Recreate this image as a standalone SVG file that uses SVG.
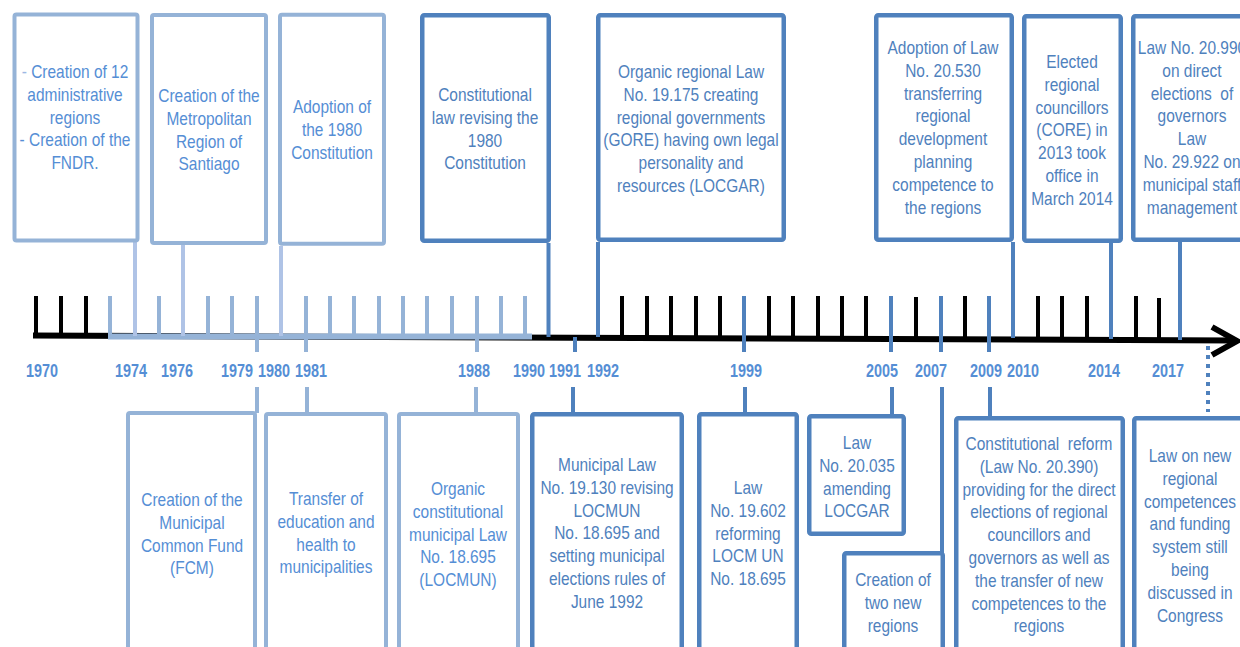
<svg xmlns="http://www.w3.org/2000/svg" width="1240" height="647" viewBox="0 0 1240 647">
<defs>
<style>
.bl{fill:#fff;stroke:#95B3D7;stroke-width:4}
.bd{fill:#fff;stroke:#4F81BD;stroke-width:4.5}
.t{font-family:"Liberation Sans",Arial,sans-serif;font-size:18px;text-anchor:middle}
.tl{fill:#558ED5}
.td{fill:#4F81BD}
.yr{font-family:"Liberation Sans",Arial,sans-serif;font-size:18px;font-weight:bold;fill:#558ED5;text-anchor:middle}
.tk{stroke:#000;stroke-width:4}
.tlb{stroke:#95B3D7;stroke-width:4}
.cl{stroke:#AFC3E6;stroke-width:4}
.cd{stroke:#4F81BD;stroke-width:4}
</style>
</defs>
<rect width="1240" height="647" fill="#fff"/>

<g id="axis">
<line x1="33" y1="335.5" x2="1234" y2="340.5" stroke="#000" stroke-width="6"/>
<line x1="108" y1="336.5" x2="532" y2="336.5" stroke="#95B3D7" stroke-width="6"/>
<polyline points="1212,327 1237,341 1212,355" fill="none" stroke="#000" stroke-width="6"/>
<g class="tk">
<line x1="36" y1="296" x2="36" y2="336"/><line x1="61" y1="296" x2="61" y2="336"/><line x1="86" y1="296" x2="86" y2="336"/>
<line x1="622" y1="296" x2="622" y2="338"/><line x1="647" y1="296" x2="647" y2="338"/><line x1="671" y1="296" x2="671" y2="338"/><line x1="696" y1="296" x2="696" y2="338"/><line x1="720" y1="296" x2="720" y2="338"/>
<line x1="769" y1="296" x2="769" y2="338"/><line x1="793" y1="296" x2="793" y2="338"/><line x1="818" y1="296" x2="818" y2="338"/><line x1="842" y1="296" x2="842" y2="338"/><line x1="866" y1="296" x2="866" y2="338"/>
<line x1="916" y1="297" x2="916" y2="339"/><line x1="965" y1="296" x2="965" y2="339"/><line x1="1038" y1="296" x2="1038" y2="339"/><line x1="1062" y1="296" x2="1062" y2="339"/><line x1="1087" y1="296" x2="1087" y2="339"/>
<line x1="1136" y1="296" x2="1136" y2="340"/><line x1="1159" y1="298" x2="1159" y2="340"/>
</g>
<g class="tlb">
<line x1="110" y1="296" x2="110" y2="336"/><line x1="159" y1="296" x2="159" y2="336"/><line x1="208" y1="296" x2="208" y2="336"/><line x1="232" y1="296" x2="232" y2="336"/>
<line x1="330" y1="296" x2="330" y2="336"/><line x1="354" y1="296" x2="354" y2="336"/><line x1="379" y1="296" x2="379" y2="336"/><line x1="403" y1="296" x2="403" y2="336"/><line x1="427" y1="296" x2="427" y2="336"/><line x1="452" y1="296" x2="452" y2="336"/>
<line x1="501" y1="296" x2="501" y2="336"/><line x1="525" y1="296" x2="525" y2="336"/>
</g>
</g>

<g id="years">
<text class="yr" transform="translate(42,377) scale(0.8,1)">1970</text>
<text class="yr" transform="translate(131,377) scale(0.8,1)">1974</text>
<text class="yr" transform="translate(177,377) scale(0.8,1)">1976</text>
<text class="yr" transform="translate(237,377) scale(0.8,1)">1979</text>
<text class="yr" transform="translate(274,377) scale(0.8,1)">1980</text>
<text class="yr" transform="translate(311,377) scale(0.8,1)">1981</text>
<text class="yr" transform="translate(474,377) scale(0.8,1)">1988</text>
<text class="yr" transform="translate(529,377) scale(0.8,1)">1990</text>
<text class="yr" transform="translate(565,377) scale(0.8,1)">1991</text>
<text class="yr" transform="translate(603,377) scale(0.8,1)">1992</text>
<text class="yr" transform="translate(746,377) scale(0.8,1)">1999</text>
<text class="yr" transform="translate(882,377) scale(0.8,1)">2005</text>
<text class="yr" transform="translate(931,377) scale(0.8,1)">2007</text>
<text class="yr" transform="translate(986,377) scale(0.8,1)">2009</text>
<text class="yr" transform="translate(1023,377) scale(0.8,1)">2010</text>
<text class="yr" transform="translate(1104,377) scale(0.8,1)">2014</text>
<text class="yr" transform="translate(1168,377) scale(0.8,1)">2017</text>
</g>

<g id="connectors" fill="none">
<line class="cl" x1="135" y1="242" x2="135" y2="336"/>
<line class="cl" x1="183" y1="245" x2="183" y2="336"/>
<line class="cl" x1="281" y1="246" x2="281" y2="336"/>
<line class="tlb" x1="257" y1="296" x2="257" y2="352"/><line class="tlb" x1="257" y1="387" x2="257" y2="413"/>
<line class="tlb" x1="306" y1="296" x2="306" y2="352"/><line class="tlb" x1="307" y1="387" x2="307" y2="414"/>
<line class="tlb" x1="477" y1="296" x2="477" y2="352"/><line class="tlb" x1="476" y1="387" x2="476" y2="414"/>
<line class="cd" x1="548.5" y1="243" x2="548.5" y2="337"/>
<line class="cd" x1="575" y1="337" x2="575" y2="352"/><line class="cd" x1="573" y1="387" x2="573" y2="414"/>
<line class="cd" x1="598" y1="242" x2="598" y2="337"/>
<line class="cd" x1="744" y1="296" x2="744" y2="352"/><line class="cd" x1="745" y1="387" x2="745" y2="414"/>
<line class="cd" x1="891" y1="296" x2="891" y2="352"/><line class="cd" x1="892" y1="387" x2="892" y2="416"/>
<line class="cd" x1="941" y1="296" x2="941" y2="352"/><line class="cd" x1="942" y1="387" x2="942" y2="553"/>
<line class="cd" x1="989" y1="296" x2="989" y2="352"/><line class="cd" x1="990" y1="387" x2="990" y2="418"/>
<line class="cd" x1="1013" y1="242" x2="1013" y2="338"/>
<line class="cd" x1="1111" y1="243" x2="1111" y2="339"/>
<line class="cd" x1="1180" y1="242" x2="1180" y2="340"/>
<line class="cd" x1="1208" y1="346" x2="1208" y2="412" stroke-dasharray="4 5"/>
</g>

<g id="n1974"><rect class="bl" x="14.5" y="14.5" width="123" height="226" rx="2"/>
<text class="t tl" transform="translate(75,78) scale(0.86,1)"><tspan x="0"><tspan fill="#9DB8E4">-</tspan> Creation of 12</tspan><tspan x="0" dy="22.8">administrative</tspan><tspan x="0" dy="22.8">regions</tspan><tspan x="0" dy="22.8">- Creation of the</tspan><tspan x="0" dy="22.8">FNDR.</tspan></text></g>
<g id="n1976"><rect class="bl" x="152" y="15" width="114" height="228" rx="2"/>
<text class="t tl" transform="translate(209,102) scale(0.86,1)"><tspan x="0">Creation of the</tspan><tspan x="0" dy="22.8">Metropolitan</tspan><tspan x="0" dy="22.8">Region of</tspan><tspan x="0" dy="22.8">Santiago</tspan></text></g>
<g id="n1980"><rect class="bl" x="280" y="14.7" width="104" height="229" rx="2"/>
<text class="t tl" transform="translate(332,113) scale(0.86,1)"><tspan x="0">Adoption of</tspan><tspan x="0" dy="22.8">the 1980</tspan><tspan x="0" dy="22.8">Constitution</tspan></text></g>
<g id="n1990"><rect class="bd" x="422.25" y="15.25" width="126.5" height="225.5" rx="2"/>
<text class="t td" transform="translate(485,101) scale(0.86,1)"><tspan x="0">Constitutional</tspan><tspan x="0" dy="22.8">law revising the</tspan><tspan x="0" dy="22.8">1980</tspan><tspan x="0" dy="22.8">Constitution</tspan></text></g>
<g id="n1992"><rect class="bd" x="598.25" y="15.25" width="185.5" height="224.5" rx="2"/>
<text class="t td" transform="translate(691,78) scale(0.86,1)"><tspan x="0">Organic regional Law</tspan><tspan x="0" dy="22.8">No. 19.175 creating</tspan><tspan x="0" dy="22.8">regional governments</tspan><tspan x="0" dy="22.8">(GORE) having own legal</tspan><tspan x="0" dy="22.8">personality and</tspan><tspan x="0" dy="22.8">resources (LOCGAR)</tspan></text></g>
<g id="n2010"><rect class="bd" x="876.25" y="15.25" width="135.5" height="224.5" rx="2"/>
<text class="t td" transform="translate(943,54) scale(0.86,1)"><tspan x="0">Adoption of Law</tspan><tspan x="0" dy="22.8">No. 20.530</tspan><tspan x="0" dy="22.8">transferring</tspan><tspan x="0" dy="22.8">regional</tspan><tspan x="0" dy="22.8">development</tspan><tspan x="0" dy="22.8">planning</tspan><tspan x="0" dy="22.8">competence to</tspan><tspan x="0" dy="22.8">the regions</tspan></text></g>
<g id="n2014"><rect class="bd" x="1024.25" y="16.25" width="96.5" height="224.5" rx="2"/>
<text class="t td" transform="translate(1072,68) scale(0.86,1)"><tspan x="0">Elected</tspan><tspan x="0" dy="22.8">regional</tspan><tspan x="0" dy="22.8">councillors</tspan><tspan x="0" dy="22.8">(CORE) in</tspan><tspan x="0" dy="22.8">2013 took</tspan><tspan x="0" dy="22.8">office in</tspan><tspan x="0" dy="22.8">March 2014</tspan></text></g>
<g id="n2017"><rect class="bd" x="1133.25" y="16.25" width="130" height="223.5" rx="2"/>
<text class="t td" transform="translate(1192,54) scale(0.86,1)"><tspan x="0">Law No. 20.990</tspan><tspan x="0" dy="22.8">on direct</tspan><tspan x="0" dy="22.8">elections&#160; of</tspan><tspan x="0" dy="22.8">governors</tspan><tspan x="0" dy="22.8">Law</tspan><tspan x="0" dy="22.8">No. 29.922 on</tspan><tspan x="0" dy="22.8">municipal staff</tspan><tspan x="0" dy="22.8">management</tspan></text></g>

<g id="n1979"><rect class="bl" x="128" y="413" width="127" height="260" rx="2"/>
<text class="t tl" transform="translate(192,506) scale(0.86,1)"><tspan x="0">Creation of the</tspan><tspan x="0" dy="22.8">Municipal</tspan><tspan x="0" dy="22.8">Common Fund</tspan><tspan x="0" dy="22.8">(FCM)</tspan></text></g>
<g id="n1981"><rect class="bl" x="266" y="414" width="120" height="260" rx="2"/>
<text class="t tl" transform="translate(326,505) scale(0.86,1)"><tspan x="0">Transfer of</tspan><tspan x="0" dy="22.8">education and</tspan><tspan x="0" dy="22.8">health to</tspan><tspan x="0" dy="22.8">municipalities</tspan></text></g>
<g id="n1988"><rect class="bl" x="399" y="414" width="119" height="260" rx="2"/>
<text class="t tl" transform="translate(458,495) scale(0.86,1)"><tspan x="0">Organic</tspan><tspan x="0" dy="22.8">constitutional</tspan><tspan x="0" dy="22.8">municipal Law</tspan><tspan x="0" dy="22.8">No. 18.695</tspan><tspan x="0" dy="22.8">(LOCMUN)</tspan></text></g>
<g id="n1991"><rect class="bd" x="532.25" y="414.25" width="149.5" height="260" rx="2"/>
<text class="t td" transform="translate(607,471) scale(0.86,1)"><tspan x="0">Municipal Law</tspan><tspan x="0" dy="22.8">No. 19.130 revising</tspan><tspan x="0" dy="22.8">LOCMUN</tspan><tspan x="0" dy="22.8">No. 18.695 and</tspan><tspan x="0" dy="22.8">setting municipal</tspan><tspan x="0" dy="22.8">elections rules of</tspan><tspan x="0" dy="22.8">June 1992</tspan></text></g>
<g id="n1999"><rect class="bd" x="699.25" y="414.25" width="97.5" height="260" rx="2"/>
<text class="t td" transform="translate(748,494) scale(0.86,1)"><tspan x="0">Law</tspan><tspan x="0" dy="22.8">No. 19.602</tspan><tspan x="0" dy="22.8">reforming</tspan><tspan x="0" dy="22.8">LOCM UN</tspan><tspan x="0" dy="22.8">No. 18.695</tspan></text></g>
<g id="n2005"><rect class="bd" x="809.25" y="416.25" width="94.5" height="117.5" rx="2"/>
<text class="t td" transform="translate(857,449) scale(0.86,1)"><tspan x="0">Law</tspan><tspan x="0" dy="22.8">No. 20.035</tspan><tspan x="0" dy="22.8">amending</tspan><tspan x="0" dy="22.8">LOCGAR</tspan></text></g>
<g id="n2007"><rect class="bd" x="844.25" y="553.25" width="98.5" height="120" rx="2"/>
<text class="t td" transform="translate(893,586) scale(0.86,1)"><tspan x="0">Creation of</tspan><tspan x="0" dy="22.8">two new</tspan><tspan x="0" dy="22.8">regions</tspan></text></g>
<g id="n2009"><rect class="bd" x="956.25" y="418.25" width="166.5" height="260" rx="2"/>
<text class="t td" transform="translate(1039,450) scale(0.86,1)"><tspan x="0">Constitutional&#160; reform</tspan><tspan x="0" dy="22.8">(Law No. 20.390)</tspan><tspan x="0" dy="22.8">providing for the direct</tspan><tspan x="0" dy="22.8">elections of regional</tspan><tspan x="0" dy="22.8">councillors and</tspan><tspan x="0" dy="22.8">governors as well as</tspan><tspan x="0" dy="22.8">the transfer of new</tspan><tspan x="0" dy="22.8">competences to the</tspan><tspan x="0" dy="22.8">regions</tspan></text></g>
<g id="nfuture"><rect class="bd" x="1134.25" y="418.25" width="130" height="260" rx="2"/>
<text class="t td" transform="translate(1190,462) scale(0.86,1)"><tspan x="0">Law on new</tspan><tspan x="0" dy="22.8">regional</tspan><tspan x="0" dy="22.8">competences</tspan><tspan x="0" dy="22.8">and funding</tspan><tspan x="0" dy="22.8">system still</tspan><tspan x="0" dy="22.8">being</tspan><tspan x="0" dy="22.8">discussed in</tspan><tspan x="0" dy="22.8">Congress</tspan></text></g>
</svg>
